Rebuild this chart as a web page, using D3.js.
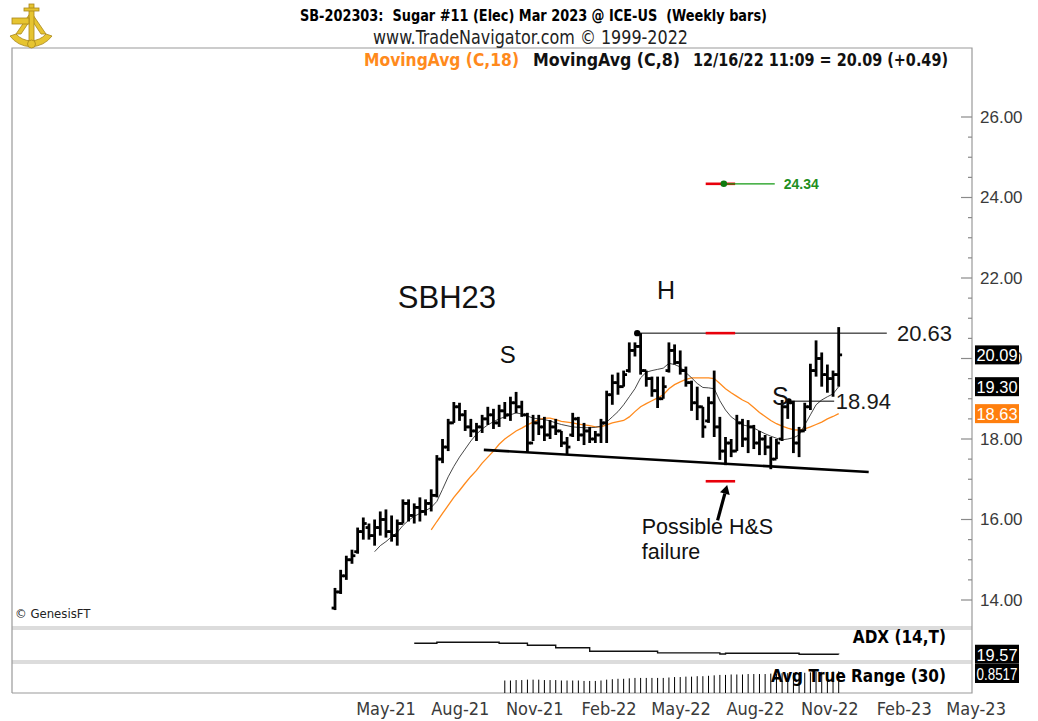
<!DOCTYPE html>
<html>
<head>
<meta charset="utf-8">
<script src="https://cdn.jsdelivr.net/npm/d3@7"></script>
<style>
  body { margin: 0; background: #fff; }
  svg text { font-family: "Liberation Sans", Arial, sans-serif; white-space: pre; }
  .narrow { font-family: "Liberation Sans Narrow", "DejaVu Sans Condensed", Arial, sans-serif; }
</style>
</head>
<body>
<div id="chart"></div>
<script>
// weekly bars, SB-202303 (Sugar #11 Mar 2023)
const firstWeek = "2021-04-02";
const highs = [14.30,14.75,15.10,15.25,15.80,16.05,15.90,16.00,16.20,16.25,
  16.10,16.00,16.50,16.50,16.40,16.55,16.50,16.75,17.60,18.00,
  18.50,18.92,18.90,18.72,18.50,18.40,18.60,18.80,18.75,18.85,
  18.92,19.05,19.17,18.95,18.65,18.60,18.60,18.55,18.47,18.50,
  18.20,18.05,18.65,18.55,18.40,18.30,18.20,18.50,19.20,19.60,
  19.65,19.70,20.40,20.40,20.63,19.70,19.55,19.55,19.55,20.40,
  20.35,20.20,19.80,19.45,19.30,18.80,19.05,19.70,18.55,18.05,
  18.00,18.60,18.50,18.47,18.35,18.20,18.10,18.05,18.00,18.97,
  19.00,18.95,18.30,18.90,19.87,20.45,20.15,19.85,19.70,20.78];
const lows = [13.75,14.15,14.50,14.90,15.15,15.50,15.50,15.35,15.60,15.55,
  15.45,15.35,15.90,15.95,15.90,15.95,16.10,16.20,16.55,17.40,
  17.70,18.40,18.45,18.20,18.05,17.95,18.15,18.35,18.25,18.30,
  18.50,18.45,18.64,18.55,17.67,17.95,18.10,17.95,18.00,18.10,
  17.80,17.60,18.05,17.95,17.85,17.90,17.90,17.90,17.90,18.85,
  19.10,19.30,19.65,20.05,19.60,19.30,19.05,18.77,19.00,19.65,
  19.85,19.60,19.30,18.70,18.47,18.03,18.40,18.05,17.48,17.35,
  17.55,17.70,17.80,17.65,17.75,17.60,17.60,17.25,17.50,17.95,
  18.50,17.65,17.55,18.20,18.72,19.55,19.30,19.15,19.05,19.30];
const opens = [13.80,14.20,14.60,15.00,15.20,15.70,15.80,15.60,15.80,16.00,
  15.70,15.60,15.90,16.40,16.10,16.30,16.20,16.40,16.60,17.50,
  17.80,18.40,18.80,18.60,18.30,18.20,18.30,18.50,18.60,18.40,
  18.70,18.60,18.90,18.80,18.60,17.90,18.40,18.30,18.10,18.30,
  18.20,17.90,18.10,18.50,18.10,18.20,18.00,18.10,18.40,19.10,
  19.40,19.30,19.70,20.20,20.30,19.70,19.50,19.20,19.00,19.70,
  20.20,19.90,19.70,19.40,18.90,18.80,18.45,18.90,18.30,17.70,
  17.90,17.70,18.40,18.00,18.30,17.90,18.00,17.80,17.50,18.00,
  18.80,18.90,17.90,18.20,18.80,19.70,20.00,19.60,19.50,19.60];
const closes = [14.20,14.60,15.00,15.10,15.70,15.90,15.60,15.80,16.00,15.70,
  15.60,15.90,16.40,16.10,16.30,16.20,16.40,16.60,17.50,17.80,
  18.40,18.80,18.60,18.30,18.20,18.30,18.50,18.60,18.40,18.70,
  18.60,18.90,18.80,18.60,17.90,18.40,18.30,18.10,18.30,18.20,
  17.90,17.80,18.50,18.10,18.20,18.00,18.10,18.40,19.10,19.40,
  19.30,19.60,20.20,20.30,19.70,19.50,19.20,19.00,19.30,20.20,
  19.90,19.70,19.40,18.90,18.80,18.30,18.90,18.30,17.70,17.90,
  17.70,18.40,18.00,18.30,17.90,18.00,17.80,17.50,17.90,18.80,
  18.90,17.90,18.20,18.80,19.70,20.00,19.60,19.50,19.60,20.09];

// MovingAvg (C,8) from bar 7, MovingAvg (C,18) from bar 17
const ma8Start = 7;
const ma8 = [15.20,15.35,15.45,15.57,15.68,15.85,15.98,16.08,16.15,16.22,
  16.30,16.45,16.75,17.06,17.32,17.55,17.75,17.95,18.12,18.25,
  18.35,18.43,18.50,18.55,18.60,18.65,18.62,18.57,18.52,18.50,
  18.48,18.45,18.40,18.36,18.33,18.30,18.29,18.28,18.28,18.29,
  18.32,18.42,18.55,18.68,18.85,19.05,19.25,19.52,19.66,19.70,
  19.73,19.76,19.88,19.85,19.79,19.65,19.52,19.38,19.28,19.27,
  19.25,18.95,18.72,18.55,18.45,18.35,18.32,18.27,18.20,18.13,
  18.07,18.02,17.98,18.00,18.03,18.10,18.35,18.60,18.85,18.97,
  19.05,19.12,19.30];
const ma18Start = 17;
const ma18 = [15.74,15.95,16.15,16.35,16.55,16.72,16.90,17.07,17.22,17.40,
  17.55,17.70,17.87,18.00,18.10,18.20,18.27,18.35,18.42,18.48,
  18.52,18.52,18.48,18.44,18.42,18.40,18.37,18.35,18.33,18.30,
  18.30,18.35,18.40,18.43,18.46,18.55,18.68,18.80,18.88,18.95,
  19.02,19.10,19.25,19.35,19.42,19.48,19.52,19.52,19.52,19.52,
  19.50,19.38,19.25,19.15,19.06,18.97,18.90,18.78,18.66,18.56,
  18.46,18.38,18.32,18.27,18.23,18.22,18.25,18.30,18.36,18.42,
  18.50,18.56,18.63];

// ADX (14,T) from bar 14, Avg True Range (30) from bar 30
const adxStart = 14;
const adx = [25.4,25.4,25.4,25.4,
  26.0,26.0,26.0,26.0,26.0,26.0,26.0,26.0,26.0,26.0,26.0,
  25.4,25.4,25.4,25.4,25.4,
  24.4,24.4,24.4,24.4,24.4,
  23.0,23.0,23.0,23.0,23.0,23.0,
  21.2,21.2,21.2,21.2,21.2,21.2,21.2,21.2,21.2,21.2,21.2,21.2,
  20.3,20.3,20.3,20.3,20.3,20.3,20.3,20.3,20.3,20.3,20.3,
  19.7,
  20.1,20.1,20.1,20.1,20.1,20.1,20.1,20.1,20.1,20.1,20.1,20.1,20.1,
  19.6,19.6,19.6,19.6,19.6,19.6,19.6,19.57];
const atrStart = 30;
const atr = [0.64,0.64,0.65,0.65,0.66,0.66,0.66,0.65,0.65,0.65,0.64,
  0.64,0.64,0.64,0.63,0.63,0.63,0.64,0.66,0.67,0.68,
  0.68,0.69,0.70,0.70,0.70,0.70,0.70,0.70,0.71,0.72,
  0.72,0.73,0.73,0.74,0.74,0.75,0.76,0.77,0.77,0.78,
  0.78,0.78,0.79,0.79,0.79,0.79,0.80,0.80,0.81,0.81,
  0.82,0.82,0.82,0.83,0.84,0.84,0.84,0.85,0.8517];

const priceTicks = [14, 16, 18, 20, 22, 24, 26];
const monthTicks = ["2021-05-01","2021-08-01","2021-11-01","2022-02-01","2022-05-01",
  "2022-08-01","2022-11-01","2023-02-01","2023-05-01"];
const monthLabels = ["May-21","Aug-21","Nov-21","Feb-22","May-22","Aug-22","Nov-22","Feb-23","May-23"];

const W = 1038, H = 721;
const frame = {left: 12, right: 972, top: 48, bottom: 626};
const adxBox = {top: 630, bottom: 660};
const atrBox = {top: 664, bottom: 693};

const svg = d3.select("#chart").append("svg")
    .attr("width", W).attr("height", H);

// scales
const n = highs.length;
const x = d3.scaleLinear().domain([0, n - 1]).range([335, 838.7]);
const parse = d3.timeParse("%Y-%m-%d");
const d0 = parse(firstWeek);
const dN = d3.timeWeek.offset(d0, n - 1);
const xt = d3.scaleTime().domain([d0, dN]).range([335, 838.7]);
const y = d3.scaleLinear().domain([14, 26]).range([600, 117]);
const yAdx = d3.scaleLinear().domain([16.5, 32.5]).range([adxBox.bottom, adxBox.top]);
const yAtr = d3.scaleLinear().domain([0.35, 1.0]).range([atrBox.bottom, atrBox.top + 1]);

// frames
const sep = "#dcdcdc";
svg.append("rect").attr("x", frame.left).attr("y", frame.bottom)
    .attr("width", frame.right - frame.left).attr("height", adxBox.top - frame.bottom).attr("fill", sep);
svg.append("rect").attr("x", frame.left).attr("y", adxBox.bottom)
    .attr("width", frame.right - frame.left).attr("height", atrBox.top - adxBox.bottom).attr("fill", sep);
svg.append("path")
    .attr("d", `M${frame.left},${atrBox.bottom}V${frame.top}H${frame.right}V${atrBox.bottom}H${frame.left}`)
    .attr("fill", "none").attr("stroke", "#9a9a9a").attr("stroke-width", 1.2);

// right price axis
const yAxis = d3.axisRight(y).tickValues(priceTicks).tickSize(0)
    .tickFormat(d3.format(".2f"));
const ya = svg.append("g").attr("transform", `translate(${frame.right},0)`).call(yAxis);
ya.select(".domain").remove();
ya.selectAll("text").attr("x", 8).attr("fill", "#3a3a3a").style("font-size", "17px");
// minor / major ticks pointing into the plot
const tickVals = d3.range(14, 26.01, 0.5);
svg.append("g").selectAll("line").data(tickVals).join("line")
    .attr("x1", d => frame.right - (d % 2 === 0 ? 11 : 4)).attr("x2", frame.right)
    .attr("y1", d => y(d)).attr("y2", d => y(d))
    .attr("stroke", "#8a8a8a").attr("stroke-width", 1.2);

// bottom month axis
const xAxis = d3.axisBottom(xt).tickValues(monthTicks.map(parse))
    .tickFormat((d, i) => monthLabels[i]).tickSize(0);
const xa = svg.append("g").attr("transform", "translate(0,715)").call(xAxis);
xa.select(".domain").remove();
xa.selectAll("text").attr("dx", 27).attr("y", 0).attr("dy", 0).attr("fill", "#3a3a3a")
    .attr("class", "narrow").style("font-size", "18px");

// moving averages
const line = d3.line().x(d => x(d[0])).y(d => y(d[1]));
svg.append("path").datum(ma18.map((v, i) => [i + ma18Start, v]))
    .attr("d", line).attr("fill", "none").attr("stroke", "#ff8a1c").attr("stroke-width", 1.3);
svg.append("path").datum(ma8.map((v, i) => [i + ma8Start, v]))
    .attr("d", line).attr("fill", "none").attr("stroke", "#333").attr("stroke-width", 0.9);

// OHLC bars
const idx = d3.range(n);
const bars = svg.append("g").attr("stroke", "#000").attr("stroke-width", 2.8);
bars.selectAll(".hl").data(idx).join("line").attr("class", "hl")
    .attr("x1", i => x(i)).attr("x2", i => x(i))
    .attr("y1", i => y(highs[i])).attr("y2", i => y(lows[i]));
bars.selectAll(".op").data(idx).join("line").attr("class", "op")
    .attr("x1", i => x(i) - 3.4).attr("x2", i => x(i))
    .attr("y1", i => y(opens[i])).attr("y2", i => y(opens[i]));
bars.selectAll(".cl").data(idx).join("line").attr("class", "cl")
    .attr("x1", i => x(i)).attr("x2", i => x(i) + 3.4)
    .attr("y1", i => y(closes[i])).attr("y2", i => y(closes[i]));

// annotations (index, price)
const ann = svg.append("g");
// neckline
ann.append("line").attr("x1", x(26.3)).attr("y1", y(17.73)).attr("x2", x(94.3)).attr("y2", y(17.18))
    .attr("stroke", "#000").attr("stroke-width", 2.6);
// 20.63 resistance
ann.append("line").attr("x1", x(53.4)).attr("x2", x(97.5)).attr("y1", y(20.63)).attr("y2", y(20.63))
    .attr("stroke", "#000").attr("stroke-width", 1);
ann.append("circle").attr("cx", x(53.4)).attr("cy", y(20.63)).attr("r", 3.2).attr("fill", "#000");
ann.append("text").attr("x", x(99.3)).attr("y", y(20.63) + 8).text("20.63")
    .style("font-size", "22px").attr("fill", "#1a1a1a");
// 18.94 level
ann.append("line").attr("x1", x(80.2)).attr("x2", x(88.2)).attr("y1", y(18.94)).attr("y2", y(18.94))
    .attr("stroke", "#000").attr("stroke-width", 1);
ann.append("circle").attr("cx", x(80.2)).attr("cy", y(18.94)).attr("r", 2.8).attr("fill", "#000");
ann.append("text").attr("x", x(88.5)).attr("y", y(18.94) + 8).text("18.94")
    .style("font-size", "22px").attr("fill", "#1a1a1a");
// red markers
[20.63, 24.34, 16.95].forEach(p => {
  ann.append("line").attr("x1", x(65.5)).attr("x2", x(70.7)).attr("y1", y(p)).attr("y2", y(p))
      .attr("stroke", "#e8000b").attr("stroke-width", 2.6);
});
// target
ann.append("line").attr("x1", x(68.7)).attr("x2", x(77.7)).attr("y1", y(24.34)).attr("y2", y(24.34))
    .attr("stroke", "#129a12").attr("stroke-width", 1.3);
ann.append("circle").attr("cx", x(68.7)).attr("cy", y(24.34)).attr("r", 3.3).attr("fill", "#0f7a0f");
ann.append("text").attr("x", x(79.3)).attr("y", y(24.34) + 5.5).text("24.34")
    .style("font-size", "14px").style("font-weight", "bold").attr("fill", "#1f8f1f");
// arrow
const a0 = [x(67.6), y(15.98)], a1 = [x(69.3), y(16.86)];
const ang = Math.atan2(a1[1] - a0[1], a1[0] - a0[0]);
const hx = a1[0] - 9 * Math.cos(ang), hy = a1[1] - 9 * Math.sin(ang);
ann.append("line").attr("x1", a0[0]).attr("y1", a0[1]).attr("x2", hx).attr("y2", hy)
    .attr("stroke", "#000").attr("stroke-width", 3.2);
ann.append("path")
    .attr("d", `M${a1[0]},${a1[1]}L${hx + 5 * Math.sin(ang)},${hy - 5 * Math.cos(ang)}L${hx - 5 * Math.sin(ang)},${hy + 5 * Math.cos(ang)}Z`)
    .attr("fill", "#000");
// labels
const lab = (t, i, p, size) => ann.append("text").attr("x", x(i)).attr("y", y(p)).text(t)
    .style("font-size", size + "px").attr("fill", "#111");
lab("SBH23", 11.1, 21.25, 31);
lab("S", 29.1, 19.9, 24);
lab("H", 56.9, 21.47, 25);
lab("S", 77.2, 18.85, 25);
lab("Possible H&S", 54.2, 15.63, 21.5);
lab("failure", 54.2, 15.03, 21.5);

// ADX panel
svg.append("path").datum(adx.map((v, i) => [i + adxStart, v]))
    .attr("d", d3.line().x(d => x(d[0])).y(d => yAdx(d[1])).curve(d3.curveStepAfter))
    .attr("fill", "none").attr("stroke", "#111").attr("stroke-width", 1.4);
svg.append("text").attr("class", "narrow").attr("x", 946).attr("y", 643).attr("text-anchor", "end")
    .style("font-size", "17px").style("font-weight", "bold").text("ADX (14,T)");

// ATR panel
svg.append("g").selectAll("line").data(atr).join("line")
    .attr("x1", (d, i) => x(i + atrStart)).attr("x2", (d, i) => x(i + atrStart))
    .attr("y1", atrBox.bottom).attr("y2", d => yAtr(d))
    .attr("stroke", "#000").attr("stroke-width", 1);
svg.append("text").attr("class", "narrow").attr("x", 946).attr("y", 682).attr("text-anchor", "end")
    .style("font-size", "17px").style("font-weight", "bold").text("Avg True Range (30)");

// value boxes on the right axis
const boxes = [
  {v: "20.09", yy: y(closes[n - 1]), fill: "#000"},
  {v: "19.30", yy: y(ma8[ma8.length - 1]), fill: "#000"},
  {v: "18.63", yy: y(ma18[ma18.length - 1]), fill: "#ff7f0e"},
  {v: "19.57", yy: yAdx(adx[adx.length - 1]), fill: "#000"},
  {v: "0.8517", yy: 673.5, fill: "#000"}
];
boxes.forEach(b => {
  svg.append("rect").attr("x", 975).attr("y", b.yy - 9.5).attr("width", 44)
      .attr("height", 19).attr("fill", b.fill);
  svg.append("text").attr("x", 976.5).attr("y", b.yy + 6.5).text(b.v)
      .attr("textLength", 41).attr("lengthAdjust", "spacingAndGlyphs")
      .style("font-size", "17px").attr("fill", "#fff");
});

// header
svg.append("text").attr("class", "narrow").attr("x", 300).attr("y", 21)
    .attr("textLength", 467).attr("lengthAdjust", "spacingAndGlyphs")
    .style("font-size", "15px").style("font-weight", "bold")
    .text("SB-202303:  Sugar #11 (Elec) Mar 2023 @ ICE-US  (Weekly bars)");
svg.append("text").attr("class", "narrow").attr("x", 373).attr("y", 44)
    .attr("textLength", 315).attr("lengthAdjust", "spacingAndGlyphs")
    .style("font-size", "19px").attr("fill", "#222")
    .text("www.TradeNavigator.com \u00a9 1999-2022");
const leg = [
  {t: "MovingAvg (C,18)", x0: 364, w: 155, c: "#ff8a1c"},
  {t: "MovingAvg (C,8)", x0: 533, w: 147, c: "#111"},
  {t: "12/16/22 11:09 = 20.09 (+0.49)", x0: 693, w: 255, c: "#111"}
];
leg.forEach(l => svg.append("text").attr("class", "narrow").attr("x", l.x0).attr("y", 66)
    .attr("textLength", l.w).attr("lengthAdjust", "spacingAndGlyphs")
    .style("font-size", "18px").style("font-weight", "bold").attr("fill", l.c).text(l.t));
svg.append("text").attr("class", "narrow").attr("x", 15).attr("y", 618)
    .style("font-size", "13px").attr("fill", "#222").text("\u00a9 GenesisFT");

// logo (sextant)
const logo = svg.append("g").attr("fill", "#e6c430").attr("stroke", "#a8861a").attr("stroke-width", 0.8);
logo.append("path").attr("d", "M10,36 A26,26 0 0 0 52,36 L46,34 A20,20 0 0 1 16,34 Z");
logo.append("path").attr("d", "M16,34 L31,12 L46,34 L41,34 L31,19 L21,34 Z");
logo.append("rect").attr("x", 29).attr("y", 4).attr("width", 5).attr("height", 40);
logo.append("rect").attr("x", 24).attr("y", 8).attr("width", 15).attr("height", 3);
logo.append("rect").attr("x", 12).attr("y", 18).attr("width", 17).attr("height", 6);
logo.append("circle").attr("cx", 31.5).attr("cy", 44).attr("r", 4);
</script>
</body>
</html>
